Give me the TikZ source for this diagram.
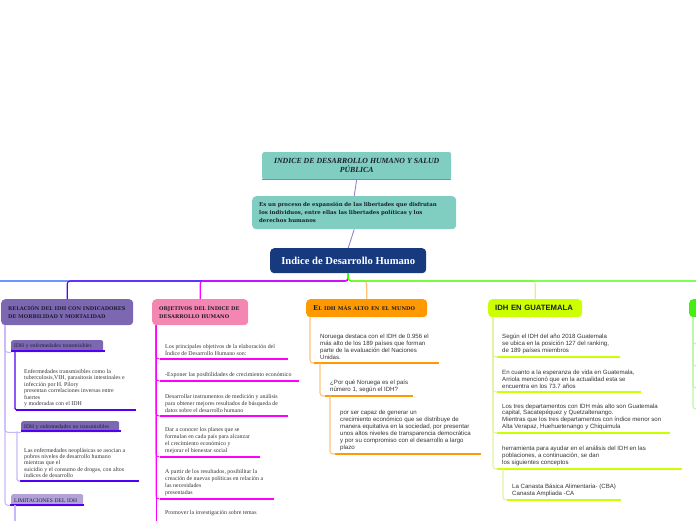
\documentclass[tikz,border=0pt]{standalone}
\usepackage{fontspec}
\setmainfont{Liberation Serif}
\newfontfamily\sansf{Liberation Sans}
\newfontfamily\dvs{DejaVu Serif}
\definecolor{tealbox}{HTML}{7FCEC1}
\definecolor{titleline}{HTML}{8A8A8A}
\definecolor{connp}{HTML}{9B7FCF}
\definecolor{rootblue}{HTML}{173A7F}
\definecolor{bBlue}{HTML}{1E5BFF}
\definecolor{bPurple}{HTML}{5A00FF}
\definecolor{bMag}{HTML}{FF00FF}
\definecolor{bGreen}{HTML}{3CFF00}
\definecolor{bOrange}{HTML}{FFC27A}
\definecolor{bYellow}{HTML}{E2F08C}
\definecolor{cOneBox}{HTML}{7C68B2}
\definecolor{cOneUl}{HTML}{5100F5}
\definecolor{cOneV}{HTML}{C8B8F8}
\definecolor{limbox}{HTML}{B3A2D8}
\definecolor{cTwoBox}{HTML}{F487B2}
\definecolor{cThreeBox}{HTML}{FF9900}
\definecolor{cFourBox}{HTML}{CCFF00}
\definecolor{cFourV}{HTML}{E4F2A0}
\definecolor{cFiveBox}{HTML}{44EE11}
\definecolor{cFiveV}{HTML}{BEF5A8}
\definecolor{darktext}{HTML}{1E1E2E}
\definecolor{bodytext}{HTML}{333333}
\newcommand{\smsp}{\hspace{2.2pt}}
\begin{document}
\begin{tikzpicture}[x=1pt,y=-1pt,
  hdr/.style={anchor=north west, rounded corners=4pt, inner xsep=7pt, inner ysep=2pt, align=left, text=darktext},
  itm/.style={anchor=south west, inner xsep=5pt, inner ysep=3pt, align=left, text=bodytext},
  serifone/.style={font=\fontsize{5.9}{6.4}\selectfont},
  seriftwo/.style={font=\fontsize{5.9}{7}\selectfont},
  sansbody/.style={font=\sansf\fontsize{6.1}{7}\selectfont},
  sub/.style={anchor=north west, rounded corners=2pt, inner xsep=3pt, inner ysep=1pt, align=left, text=darktext, font=\fontsize{5.5}{6.4}\selectfont},
  br/.style={line width=1.1pt, rounded corners=3pt},
  vline/.style={line width=1.1pt, rounded corners=3pt},
  ul/.style={line width=2.4pt}
]
\useasboundingbox (0,0) rectangle (696,520);
\clip (0,0) rectangle (696,520);

% ---------- top ----------
\node[anchor=north west, fill=tealbox, rounded corners=2pt, minimum width=189pt, minimum height=27pt, align=center, text=darktext, font=\bfseries\itshape\fontsize{7.8}{8.8}\selectfont] (title) at (262,152) {INDICE DE DESARROLLO HUMANO Y SALUD\\PÚBLICA};
\draw[titleline, line width=0.9pt] (title.south west) -- (title.south east);

\node[anchor=north west, fill=tealbox, rounded corners=4pt, minimum height=33pt, inner xsep=7pt, text width=190pt, align=left, text=darktext, font=\dvs\bfseries\fontsize{5.4}{8}\selectfont] (def) at (252,196) {Es un proceso de expansión de las libertades que disfrutan\\los individuos, entre ellas las libertades políticas y los\\derechos humanos};

\node[anchor=north west, fill=rootblue, rounded corners=4pt, minimum width=156pt, minimum height=25pt, text=white, font=\bfseries\fontsize{10.6}{12}\selectfont] (root) at (270,248) {Indice de Desarrollo Humano};

\draw[connp, line width=0.9pt] (title.south) -- (def.north);
\draw[connp, line width=0.9pt] (def.south) -- (root.north);

% ---------- column headers ----------
\node[hdr, fill=cOneBox, minimum height=26pt, text width=118pt, font=\dvs\bfseries\fontsize{5.1}{8}\selectfont] (h1) at (1,299) {RELACIÓN DEL IDH CON INDICADORES\\DE MORBILIDAD Y MORTALIDAD};
\node[hdr, fill=cTwoBox, minimum height=26pt, text width=82pt, font=\dvs\bfseries\fontsize{5.1}{8}\selectfont] (h2) at (152,299) {OBJETIVOS DEL ÍNDICE DE\\DESARROLLO HUMANO};
\node[hdr, fill=cThreeBox, minimum height=18pt, text width=107pt, font=\dvs\bfseries] (h3) at (306,299) {{\fontsize{6.8}{8}\selectfont E}{\fontsize{5.1}{8}\selectfont L\smsp IDH\smsp MÁS\smsp ALTO\smsp EN\smsp EL\smsp MUNDO}};
\node[hdr, fill=cFourBox, minimum height=18pt, text width=80pt, font=\sansf\bfseries\fontsize{7.7}{8}\selectfont] (h4) at (488,299) {IDH EN GUATEMALA};
\node[hdr, fill=cFiveBox, minimum height=18pt, text width=80pt] (h5) at (689,299) {};

% ---------- branches from root ----------
\coordinate (bus) at (0,281);
\coordinate (hL) at (-60,299);
\coordinate (hR) at (740,299);
\draw[br, bBlue] (root.south) |- (bus -| hL) -- (hL);
\draw[br, bPurple] (root.south) |- (bus -| h1.north) -- (h1.north);
\draw[br, bMag] (root.south) |- (bus -| h2.north) -- (h2.north);
\draw[br, bOrange] (root.south) |- (bus -| h3.north) -- (h3.north);
\draw[br, bYellow] (root.south) |- (bus -| h4.north) -- (h4.north);
\draw[br, bGreen] (root.south) |- (bus -| hR) -- (hR);

% ---------- column 1 ----------
\node[sub, fill=cOneBox, minimum height=12pt, text width=86pt] (s1) at (11,340) {IDH y enfermedades transmisibles};
\draw[ul, cOneUl, line width=2pt] ([yshift=1pt]s1.south west) -- ([xshift=2pt,yshift=1pt]s1.south east);
\node[itm, serifone, inner xsep=8pt] (t1) at (16,410) {Enfermedades transmisibles como la\\tuberculosis,VIH, parasitosis intestinales e\\infección por H. Pilory\\presentan correlaciones inversas entre\\fuertes\\y moderadas con el IDH};
\draw[ul, cOneUl] (t1.south west) -- ++(120,0);

\node[sub, fill=cOneBox, minimum height=11pt, text width=92pt] (s2) at (21,421) {IDH y enfermedades no transmisibles};
\draw[ul, cOneUl, line width=2pt] ([yshift=1pt]s2.south west) -- ([xshift=2pt,yshift=1pt]s2.south east);
\node[itm, serifone, inner xsep=4pt] (t2) at (20,481) {Las enfermedades neoplásicas se asocian a\\pobres niveles de desarrollo humano\\mientras que el\\suicidio y el consumo de drogas, con altos\\índices de desarrollo};
\draw[ul, cOneUl] (t2.south west) -- ++(119,0);

\node[sub, fill=limbox, minimum height=12pt, text width=66pt] (lim) at (11,494) {LIMITACIONES DEL IDH};
\draw[ul, cOneUl, line width=2pt] ([xshift=-1pt,yshift=1pt]lim.south west) -- ([xshift=1pt,yshift=1pt]lim.south east);
\coordinate (limdown) at (15,530);

\draw[vline, cOneV] ([xshift=4pt]h1.south west) |- (s1.south west);
\draw[vline, cOneV] ([xshift=4pt]h1.south west) |- (s2.south west);
\draw[vline, cOneV] ([xshift=4pt]h1.south west) |- ([xshift=-1pt,yshift=1pt]lim.south west);
\draw[vline, cOneUl, rounded corners=1.5pt] ([xshift=4pt,yshift=1pt]s1.south west) |- (t1.south west);
\draw[vline, cOneV, rounded corners=1.5pt] ([xshift=-4pt,yshift=1pt]s2.south west) |- (t2.south west);
\draw[vline, cOneV] ([xshift=4pt,yshift=1pt]lim.south west) -- (limdown);

% ---------- column 2 ----------
\node[itm, seriftwo] (o1) at (160,359) {Los principales objetivos de la elaboración del\\Índice de Desarrollo Humano son:};
\draw[ul, bMag] (o1.south west) -- ++(128,0);
\node[itm, seriftwo] (o2) at (160,381) {-Exponer las posibilidades de crecimiento económico};
\draw[ul, bMag] (o2.south west) -- ++(139,0);
\node[itm, seriftwo] (o3) at (160,416) {Desarrollar instrumentos de medición y análisis\\para obtener mejores resultados de búsqueda de\\datos sobre el desarrollo humano};
\draw[ul, bMag] (o3.south west) -- ++(128,0);
\node[itm, seriftwo] (o4) at (160,457) {Dar a conocer los planes que se\\formulan en cada país para alcanzar\\el crecimiento económico y\\mejorar el bienestar social};
\draw[ul, bMag] (o4.south west) -- ++(100,0);
\node[itm, seriftwo] (o5) at (160,499) {A partir de los resultados, posibilitar la\\creación de nuevas políticas en relación a\\las necesidades\\presentadas};
\draw[ul, bMag] (o5.south west) -- ++(114,0);
\node[itm, seriftwo, inner ysep=1pt] (o6) at (160,517) {Promover la investigación sobre temas};
\foreach \n in {o1,o2,o3,o4,o5}{\draw[vline, bMag, line width=0.9pt] ([xshift=4pt]h2.south west) |- (\n.south west);}
\draw[vline, bMag, line width=0.9pt] ([xshift=4pt]h2.south west) -- ([xshift=4pt]h2.south west |- 0,530);

% ---------- column 3 ----------
\node[itm, sansbody, inner xsep=6pt] (n1) at (314,363) {Noruega destaca con el IDH de 0.956 el\\más alto de los 189 países que forman\\parte de la evaluación del Naciones\\Unidas.};
\draw[ul, cThreeBox] (n1.south west) -- ++(125,0);
\node[itm, sansbody] (n2) at (325,396) {¿Por qué Noruega es el país\\número 1, según el IDH?};
\draw[ul, cThreeBox] (n2.south west) -- ++(88,0);
\node[itm, sansbody] (n3) at (335,454) {por ser capaz de generar un\\crecimiento económico que se distribuye de\\manera equitativa en la sociedad, por presentar\\unos altos niveles de transparencia democrática\\y por su compromiso con el desarrollo a largo\\plazo};
\draw[ul, cThreeBox] (n3.south west) -- ++(146,0);
\draw[vline, bOrange] ([xshift=4pt]h3.south west) |- (n1.south west);
\draw[vline, bOrange] ([xshift=6pt]n1.south west) |- (n2.south west);
\draw[vline, bOrange] ([xshift=5pt]n2.south west) |- (n3.south west);

% ---------- column 4 ----------
\node[itm, sansbody] (g1) at (497,357) {Según el IDH del año 2018 Guatemala\\se ubica en la posición 127 del ranking,\\de 189 países miembros};
\draw[ul, cFourBox] (g1.south west) -- ++(123,0);
\node[itm, sansbody] (g2) at (497,392) {En cuanto a la esperanza de vida en Guatemala,\\Arriola mencionó que en la actualidad esta se\\encuentra en los 73.7 años};
\draw[ul, cFourBox] (g2.south west) -- ++(144,0);
\node[itm, sansbody, font=\sansf\fontsize{6.1}{6.8}\selectfont] (g3) at (497,433) {Los tres departamentos con IDH más alto son Guatemala\\capital, Sacatepéquez y Quetzaltenango.\\Mientras que los tres departamentos con índice menor son\\Alta Verapaz, Huehuetenango y Chiquimula};
\draw[ul, cFourBox] (g3.south west) -- ++(173,0);
\node[itm, sansbody] (g4) at (497,469) {herramienta para ayudar en el análisis del IDH en las\\poblaciones, a continuación, se dan\\los siguientes conceptos};
\draw[ul, cFourBox] (g4.south west) -- ++(185,0);
\node[itm, sansbody] (g5) at (507,500) {La Canasta Básica Alimentaria- (CBA)\\Canasta Ampliada -CA};
\draw[ul, cFourBox] (g5.south west) -- ++(114,0);
\foreach \n in {g1,g2,g3,g4}{\draw[vline, cFourV] ([xshift=5pt]h4.south west) |- (\n.south west);}
\draw[vline, cFourV] ([xshift=6pt]g4.south west) |- (g5.south west);

% ---------- column 5 (cut off) ----------
\coordinate (q1) at (710,344);
\coordinate (q2) at (710,366);
\coordinate (q3) at (710,388);
\coordinate (q4) at (710,409);
\foreach \n in {q1,q2,q3,q4}{\draw[vline, cFiveV] ([xshift=4pt]h5.south west) |- (\n);}
\end{tikzpicture}
\end{document}
